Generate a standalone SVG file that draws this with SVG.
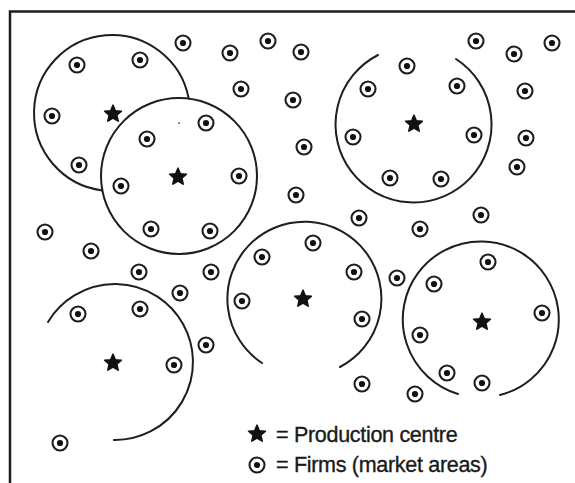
<svg xmlns="http://www.w3.org/2000/svg" xmlns:xlink="http://www.w3.org/1999/xlink" width="575" height="483" viewBox="0 0 575 483">
<style>
.arc{fill:none;stroke:#1e1e1e;stroke-width:2;stroke-linecap:round}
.frame{fill:none;stroke:#1e1e1e;stroke-width:2.5}
.lbl{font-family:"Liberation Sans",Arial,sans-serif;font-size:21.5px;fill:#1a1a1a;stroke:#1a1a1a;stroke-width:0.35;letter-spacing:-0.3px}
</style>
<defs>
<g id="firm">
<circle r="7.5" fill="#fff" stroke="#1e1e1e" stroke-width="2.1"/>
<circle r="3.1" fill="#111"/>
</g>
<polygon id="star" points="0,-8.8 2.35,-3.2 8.4,-2.75 3.8,1.2 5.2,7.1 0,4 -5.2,7.1 -3.8,1.2 -8.4,-2.75 -2.35,-3.2" fill="#111" stroke="#111" stroke-width="1.6" stroke-linejoin="round"/>
</defs>
<rect width="575" height="483" fill="#fff"/>
<g id="frame">
<path class="frame" d="M10,483 V11.5 H575"/>
</g>
<g id="connectors">
<path id="area1" class="arc" d="M188.7,98.6 A78,78 0 1 0 102.3,190.4"/>
<circle id="area2" class="arc" cx="179" cy="176" r="78"/>
<path id="area3" class="arc" d="M456,59 A78,78 0 1 1 378,55"/>
<path id="area4" class="arc" d="M340,367 A77,77 0 1 0 262,363"/>
<path id="area5" class="arc" d="M458,394 A78,78 0 1 1 500,395"/>
<path id="area6" class="arc" d="M48,322 A78,78 0 1 1 114,440"/>
</g>
<g id="centres">
<g id="centre1"><use xlink:href="#star" x="113" y="114"/></g>
<g id="centre2"><use xlink:href="#star" x="178" y="177"/></g>
<g id="centre3"><use xlink:href="#star" x="414" y="124"/></g>
<g id="centre4"><use xlink:href="#star" x="303" y="299"/></g>
<g id="centre5"><use xlink:href="#star" x="482" y="322"/></g>
<g id="centre6"><use xlink:href="#star" x="113" y="363"/></g>
</g>
<circle cx="179" cy="123" r="1" fill="#666"/>
<g id="firms">
<use xlink:href="#firm" x="77" y="65"/>
<use xlink:href="#firm" x="140" y="60"/>
<use xlink:href="#firm" x="52" y="116"/>
<use xlink:href="#firm" x="79" y="165"/>
<use xlink:href="#firm" x="147" y="139"/>
<use xlink:href="#firm" x="206" y="123"/>
<use xlink:href="#firm" x="121" y="186"/>
<use xlink:href="#firm" x="239" y="176"/>
<use xlink:href="#firm" x="151" y="229"/>
<use xlink:href="#firm" x="210" y="231"/>
<use xlink:href="#firm" x="183" y="43"/>
<use xlink:href="#firm" x="230" y="53"/>
<use xlink:href="#firm" x="268" y="41"/>
<use xlink:href="#firm" x="241" y="89"/>
<use xlink:href="#firm" x="45" y="232"/>
<use xlink:href="#firm" x="301" y="52"/>
<use xlink:href="#firm" x="293" y="100"/>
<use xlink:href="#firm" x="304" y="147"/>
<use xlink:href="#firm" x="296" y="195"/>
<use xlink:href="#firm" x="407" y="66"/>
<use xlink:href="#firm" x="368" y="89"/>
<use xlink:href="#firm" x="457" y="86"/>
<use xlink:href="#firm" x="353" y="137"/>
<use xlink:href="#firm" x="474" y="135"/>
<use xlink:href="#firm" x="390" y="178"/>
<use xlink:href="#firm" x="441" y="179"/>
<use xlink:href="#firm" x="476" y="41"/>
<use xlink:href="#firm" x="514" y="54"/>
<use xlink:href="#firm" x="552" y="43"/>
<use xlink:href="#firm" x="525" y="91"/>
<use xlink:href="#firm" x="526" y="138"/>
<use xlink:href="#firm" x="517" y="167"/>
<use xlink:href="#firm" x="359" y="218"/>
<use xlink:href="#firm" x="420" y="229"/>
<use xlink:href="#firm" x="481" y="215"/>
<use xlink:href="#firm" x="91" y="251"/>
<use xlink:href="#firm" x="139" y="272"/>
<use xlink:href="#firm" x="211" y="272"/>
<use xlink:href="#firm" x="180" y="293"/>
<use xlink:href="#firm" x="78" y="314"/>
<use xlink:href="#firm" x="140" y="309"/>
<use xlink:href="#firm" x="262" y="257"/>
<use xlink:href="#firm" x="242" y="301"/>
<use xlink:href="#firm" x="206" y="345"/>
<use xlink:href="#firm" x="174" y="365"/>
<use xlink:href="#firm" x="60" y="443"/>
<use xlink:href="#firm" x="313" y="243"/>
<use xlink:href="#firm" x="354" y="272"/>
<use xlink:href="#firm" x="362" y="319"/>
<use xlink:href="#firm" x="397" y="278"/>
<use xlink:href="#firm" x="434" y="284"/>
<use xlink:href="#firm" x="488" y="262"/>
<use xlink:href="#firm" x="542" y="313"/>
<use xlink:href="#firm" x="420" y="335"/>
<use xlink:href="#firm" x="447" y="373"/>
<use xlink:href="#firm" x="482" y="383"/>
<use xlink:href="#firm" x="362" y="384"/>
<use xlink:href="#firm" x="415" y="394"/>
</g>
<g id="legend">
<use xlink:href="#star" x="257" y="434"/>
<text class="lbl" x="276" y="442">= Production centre</text>
<use xlink:href="#firm" x="257" y="465"/>
<text class="lbl" x="276" y="472">= Firms (market areas)</text>
</g>
</svg>
